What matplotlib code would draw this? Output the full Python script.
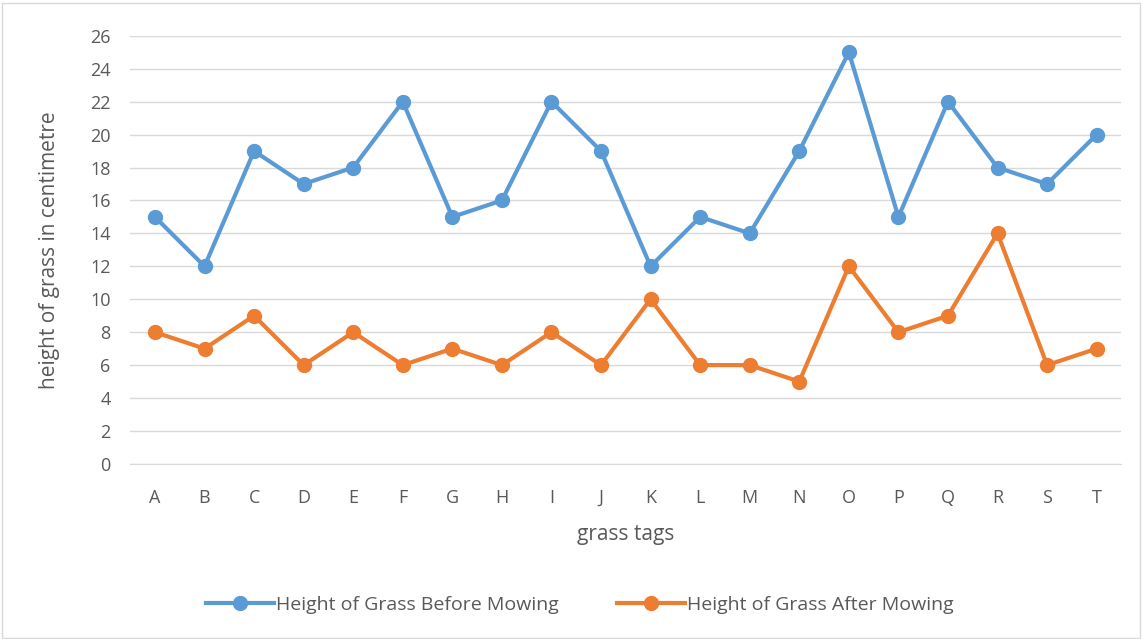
import matplotlib.pyplot as plt

tags = list("ABCDEFGHIJKLMNOPQRST")
before = [15, 12, 19, 17, 18, 22, 15, 16, 22, 19, 12, 15, 14, 19, 25, 15, 22, 18, 17, 20]
after = [8, 7, 9, 6, 8, 6, 7, 6, 8, 6, 10, 6, 6, 5, 12, 8, 9, 14, 6, 7]

plt.rcParams['font.family'] = ['Open Sans', 'DejaVu Sans']

fig = plt.figure(figsize=(11.42, 6.39), dpi=100)
ax = fig.add_axes([0.114, 0.274, 0.868, 0.670])

x = range(len(tags))
ax.plot(x, before, color="#5B9BD5", lw=3, marker="o", ms=10, label="Height of Grass Before Mowing")
ax.plot(x, after, color="#ED7D31", lw=3, marker="o", ms=10, label="Height of Grass After Mowing")

ax.set_xlim(-0.5, len(tags) - 0.5)
ax.set_ylim(0, 26)
ax.set_yticks(range(0, 27, 2))
ax.set_xticks(list(x))
ax.set_xticklabels(tags)
ax.grid(axis="y", color="#D9D9D9", lw=1)
ax.set_axisbelow(True)
for s in ["top", "right", "left"]:
    ax.spines[s].set_visible(False)
ax.spines["bottom"].set_color("#D9D9D9")
ax.tick_params(axis="x", length=0, labelsize=13, colors="#595959", pad=18)
ax.tick_params(axis="y", length=0, labelsize=13, colors="#595959", pad=14)
ax.set_xlabel("grass tags", fontsize=15, color="#595959", labelpad=12)
ax.set_ylabel("height of grass in centimetre", fontsize=15, color="#595959", labelpad=22)

fig.legend(loc="center", bbox_to_anchor=(0.508, 0.053), ncol=2, frameon=False,
           fontsize=14, labelcolor="#595959", handlelength=3.5, columnspacing=3,
           handletextpad=0.1)

fig.patches.append(plt.Rectangle((0.002, 0.002), 0.996, 0.994, transform=fig.transFigure,
                                 fill=False, edgecolor="#D9D9D9", lw=1))

fig.savefig("out.png", dpi=100)
